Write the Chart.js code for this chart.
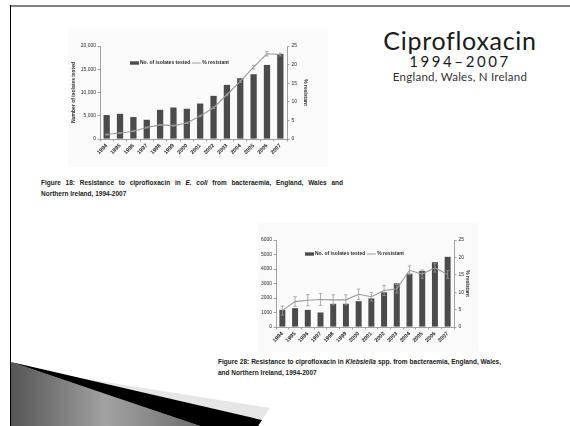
<!DOCTYPE html>
<html lang="en">
<head>
<meta charset="utf-8">
<title>Ciprofloxacin resistance 1994–2007</title>
<script src="https://cdn.jsdelivr.net/npm/chart.js@4.4.1/dist/chart.umd.min.js"></script>
<style>
  html, body { margin: 0; padding: 0; background: #fff; }
  body { position: relative; width: 570px; height: 426px; overflow: hidden; font-family: Arial, "Liberation Sans", sans-serif; }
  .rule-top { position: absolute; left: 10px; top: 5px; width: 560px; height: 2px; background: #808080; }
  .rule-left { position: absolute; left: 10px; top: 5px; width: 1.3px; height: 421px; background: #000; }
  .deco { position: absolute; left: 0; top: 0; }
  canvas { position: absolute; background: #fafafa; }
  #ecoli { left: 68px; top: 28px; }
  #kleb { left: 258px; top: 223px; }
  .heading { position: absolute; left: 360px; width: 200px; text-align: center; font-family: Lato, "Open Sans", sans-serif; color: #1a1a1a; white-space: nowrap; }
  .h1 { top: 27.5px; font-size: 25px; line-height: 25px; letter-spacing: 0.7px; }
  .h2 { top: 53.5px; font-size: 15px; line-height: 15px; letter-spacing: 2.6px; }
  .h3 { top: 71.4px; font-size: 11.5px; line-height: 12px; letter-spacing: 0.25px; color: #333; }
  .caption { position: absolute; font-weight: bold; font-size: 6.5px; line-height: 10.5px; color: #1a1a1a; }
  .caption div { white-space: nowrap; }
  .caption .full { white-space: normal; text-align: justify; text-align-last: justify; }
  #cap1 { left: 41px; top: 178px; width: 302px; }
  #cap2 { left: 218px; top: 357.2px; width: 283px; }
</style>
</head>
<body>
<div class="rule-top"></div>
<div class="rule-left"></div>

<svg class="deco" width="570" height="426" viewBox="0 0 570 426">
  <defs>
    <linearGradient id="wedgeFill" x1="0" y1="0" x2="1" y2="0">
      <stop offset="0" stop-color="#555"/>
      <stop offset="0.5" stop-color="#a2a2a2"/>
      <stop offset="1" stop-color="#6e6e6e"/>
    </linearGradient>
  </defs>
  <!-- grey wedge -->
  <polygon points="11,362 200,426 11,426" fill="url(#wedgeFill)"/>
  <!-- pale highlight above the dark stripe -->
  <polygon points="80,378 270,408 262,420" fill="#e6e6e6"/>
  <!-- dark stripe -->
  <polygon points="11,362 262,420 258,426 200,426" fill="#000"/>
</svg>

<canvas id="ecoli" width="260" height="139"></canvas>
<canvas id="kleb" width="220" height="129"></canvas>

<div class="heading h1">Ciprofloxacin</div>
<div class="heading h2">1994–2007</div>
<div class="heading h3">England, Wales, N Ireland</div>

<div class="caption" id="cap1">
  <div class="full">Figure 18: Resistance to ciprofloxacin in <i>E. coli</i> from bacteraemia, England, Wales and</div>
  <div>Northern Ireland, 1994-2007</div>
</div>
<div class="caption" id="cap2">
  <div class="full">Figure 28: Resistance to ciprofloxacin in <i>Klebsiella</i> spp. from bacteraemia, England, Wales,</div>
  <div>and Northern Ireland, 1994-2007</div>
</div>

<script>
// Years shown on both charts
const years = ['1994', '1995', '1996', '1997', '1998', '1999', '2000',
               '2001', '2002', '2003', '2004', '2005', '2006', '2007'];

// E. coli: isolates tested, % resistant and 95% CI half-width
const ecoliTested = [5150, 5420, 4720, 4140, 6280, 6770, 6500,
                     7630, 9280, 11640, 13070, 13930, 15930, 18280];
const ecoliResistant = [1.2, 1.6, 2.1, 3.1, 3.8, 3.6, 4.3,
                        6.2, 8.4, 11.9, 15.5, 19.3, 22.9, 22.7];
const ecoliCI = [0.15, 0.15, 0.15, 0.15, 0.15, 0.15, 0.15,
                 0.2, 0.2, 0.25, 0.3, 0.5, 0.6, 0.35];

// Klebsiella spp.: isolates tested, % resistant and 95% CI half-width
const klebTested = [1180, 1300, 1180, 1000, 1600, 1600, 1780,
                    1970, 2390, 3010, 3680, 3870, 4470, 4840];
const klebResistant = [4.7, 7.3, 7.7, 7.9, 7.8, 7.8, 9.4,
                       8.7, 10.5, 11.0, 16.3, 15.2, 17.0, 15.1];
const klebCI = [1.3, 1.4, 1.6, 1.7, 1.45, 1.45, 1.5,
                1.25, 1.45, 1.2, 1.25, 1.2, 1.2, 1.1];

const seriesLabels = ['No. of isolates tested', '% resistant'];
const pctTitle = '% resistant';
const countTitle = 'Number of isolates tested';

const BAR_COLOR = '#4b4b4b';
const LINE_COLOR = '#9a9a9a';
const AXIS_COLOR = '#8c8c8c';
const TEXT_COLOR = '#2a2a2a';

// Vertical confidence-interval whiskers on the % resistant line
const errorBars = {
  id: 'errorBars',
  afterDatasetsDraw(chart) {
    const ctx = chart.ctx;
    chart.data.datasets.forEach((ds, i) => {
      if (!ds.ciHalfWidth) return;
      const meta = chart.getDatasetMeta(i);
      const scale = chart.scales[ds.yAxisID];
      ctx.save();
      ctx.strokeStyle = ds.borderColor;
      ctx.lineWidth = 0.8;
      meta.data.forEach((pt, j) => {
        const v = ds.data[j], m = ds.ciHalfWidth[j];
        const yTop = scale.getPixelForValue(v + m);
        const yBot = scale.getPixelForValue(v - m);
        const cap = 1.7;
        ctx.beginPath();
        ctx.moveTo(pt.x, yTop); ctx.lineTo(pt.x, yBot);
        ctx.moveTo(pt.x - cap, yTop); ctx.lineTo(pt.x + cap, yTop);
        ctx.moveTo(pt.x - cap, yBot); ctx.lineTo(pt.x + cap, yBot);
        ctx.stroke();
      });
      ctx.restore();
    });
  }
};

// Legend drawn inside the plot area, one row
const insetLegend = {
  id: 'insetLegend',
  afterDraw(chart, args, opts) {
    const { ctx, chartArea } = chart;
    const bar = chart.data.datasets.find(d => d.type === 'bar');
    const line = chart.data.datasets.find(d => d.type === 'line');
    let x = chartArea.left + opts.dx;
    const y = chartArea.top + opts.dy;
    ctx.save();
    ctx.font = 'bold 5px Arial, "Liberation Sans", sans-serif';
    ctx.textBaseline = 'middle';
    ctx.fillStyle = bar.backgroundColor;
    ctx.fillRect(x, y - 1.7, 9, 3.4);
    x += 10;
    ctx.fillStyle = TEXT_COLOR;
    ctx.fillText(bar.label, x, y);
    x += ctx.measureText(bar.label).width + 1.5;
    ctx.strokeStyle = line.borderColor;
    ctx.lineWidth = 1;
    ctx.beginPath();
    ctx.moveTo(x, y); ctx.lineTo(x + 9, y);
    ctx.stroke();
    x += 10.5;
    ctx.fillText(line.label, x, y);
    ctx.restore();
  }
};

function buildChart(canvasId, tested, pct, ci, geo) {
  const tickFont = { family: 'Arial, "Liberation Sans", sans-serif', size: 5 };
  const boldFont = { family: 'Arial, "Liberation Sans", sans-serif', size: 5, weight: 'bold' };
  const axisGrid = { drawOnChartArea: false, drawTicks: true, tickLength: 2.5, color: AXIS_COLOR, lineWidth: 0.8 };
  const axisBorder = { display: true, color: AXIS_COLOR, width: 0.8 };

  return new Chart(document.getElementById(canvasId), {
    data: {
      labels: years,
      datasets: [
        {
          type: 'line',
          label: seriesLabels[1],
          data: pct,
          ciHalfWidth: ci,
          yAxisID: 'y1',
          borderColor: LINE_COLOR,
          borderWidth: 1.1,
          pointRadius: 0,
          tension: 0,
          order: 0
        },
        {
          type: 'bar',
          label: seriesLabels[0],
          data: tested,
          yAxisID: 'y',
          backgroundColor: BAR_COLOR,
          borderWidth: 0,
          barPercentage: 0.47,
          categoryPercentage: 1,
          order: 1
        }
      ]
    },
    options: {
      responsive: false,
      animation: false,
      events: [],
      layout: { padding: { top: geo.padTop, right: geo.padRight, bottom: 0, left: 0 } },
      plugins: {
        legend: { display: false },
        tooltip: { enabled: false },
        insetLegend: { dx: geo.legendDx, dy: geo.legendDy }
      },
      scales: {
        x: {
          offset: true,
          grid: Object.assign({ offset: true }, axisGrid),
          border: axisBorder,
          ticks: {
            font: { family: boldFont.family, size: 5.5, weight: 'bold' },
            color: TEXT_COLOR,
            minRotation: 45,
            maxRotation: 45,
            autoSkip: false,
            padding: 1
          },
          afterFit(s) { s.height = geo.xHeight; }
        },
        y: {
          position: 'left',
          min: 0,
          max: geo.countMax,
          grid: axisGrid,
          border: axisBorder,
          ticks: {
            stepSize: geo.countStep,
            font: tickFont,
            color: TEXT_COLOR,
            padding: 1.5,
            callback: geo.countFormat
          },
          title: {
            display: geo.showCountTitle,
            text: countTitle,
            font: boldFont,
            color: TEXT_COLOR,
            padding: { top: 3, bottom: 0 }
          },
          afterFit(s) { s.width = geo.leftWidth; }
        },
        y1: {
          position: 'right',
          min: 0,
          max: 25,
          grid: axisGrid,
          border: axisBorder,
          ticks: { stepSize: 5, font: tickFont, color: TEXT_COLOR, padding: 2 },
          title: {
            display: true,
            text: pctTitle,
            font: boldFont,
            color: TEXT_COLOR,
            padding: { top: 1, bottom: 0 }
          },
          afterFit(s) { s.width = geo.rightWidth; }
        }
      }
    },
    plugins: [errorBars, insetLegend]
  });
}

buildChart('ecoli', ecoliTested, ecoliResistant, ecoliCI, {
  padTop: 18, padRight: 19, xHeight: 28,
  leftWidth: 32, rightWidth: 22,
  countMax: 20000, countStep: 5000,
  countFormat: v => v.toLocaleString('en-US'),
  showCountTitle: true,
  legendDx: 30, legendDy: 17
});

buildChart('kleb', klebTested, klebResistant, klebCI, {
  padTop: 17, padRight: 7, xHeight: 25,
  leftWidth: 18, rightWidth: 17,
  countMax: 6000, countStep: 1000,
  countFormat: v => String(v),
  showCountTitle: false,
  legendDx: 29, legendDy: 14
});
</script>
</body>
</html>
